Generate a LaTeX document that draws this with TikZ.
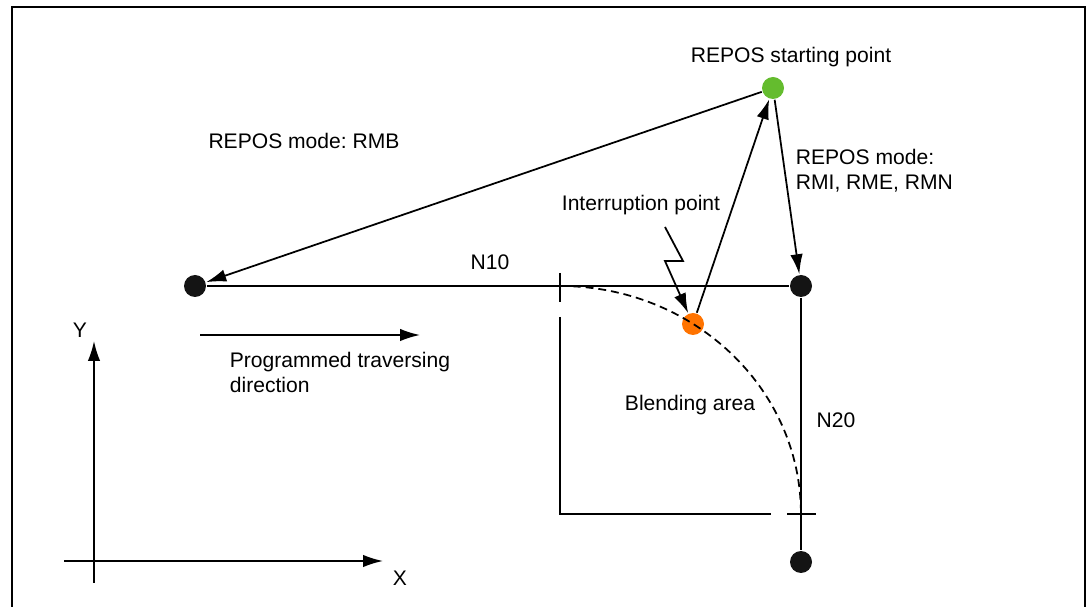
\documentclass[tikz,border=0pt]{standalone}
\usepackage{fontspec}
\setmainfont{Liberation Sans}
\frenchspacing
\usetikzlibrary{arrows.meta,positioning}
\definecolor{reposgreen}{HTML}{64BC2E}
\definecolor{irptorange}{HTML}{FF7300}

\begin{document}
\begin{tikzpicture}[x=0.02cm,y=-0.02cm,line width=1pt,
dot/.style={circle,fill=black!92,inner sep=0pt,minimum size=0.44cm},
txt/.style={font=\fontsize{12}{14.5}\selectfont,inner sep=0pt,align=left},
arr/.style={-{Latex[length=4mm,width=2.5mm]}},
blend/.style={dashed,dash pattern=on 4.5pt off 2.8pt}]
\useasboundingbox(0,0)rectangle(1086,607);
\draw(12,607)--(12,7)--(1085,7)--(1085,607);
% points of the path
\node[dot](n10start)at(195,286){};
\node[dot](corner)at(801,286){};
\node[dot](n20end)at(801,562){};
\node[dot,fill=reposgreen](repos)at(773,88){};
\node[dot,fill=irptorange](irpt)at(693,324){};
\draw(n10start)--(corner);\draw(corner)--(n20end);
% blending area
\draw(560,273)--(560,302);\draw(560,317)--(560,514)--(771,514);\draw(787,514)--(816,514);
\draw[blend](560,286)arc[start angle=90,end angle=0,x radius=4.82cm,y radius=4.56cm];
% repos paths
\draw[arr](repos)--(n10start);\draw[arr](irpt)--(repos);\draw[arr](repos)--(corner);
\coordinate(zap)at(665,227);
\draw[arr](zap)--++(18,34)--++(-18,0)--(irpt);
% direction and axes
\coordinate(dirA)at(200,335);\coordinate(dirB)at(420,335);
\draw[arr](dirA)--(dirB);
\coordinate(ybot)at(94,583);\coordinate(ytop)at(94,341);
\coordinate(xleft)at(64,561);\coordinate(xright)at(383,561);
\draw[arr](ybot)--(ytop);\draw[arr](xleft)--(xright);
% labels
\node[txt](lstart)at(791,57){REPOS starting point};
\node[txt](lrmb)at(304,141){REPOS mode: RMB};
\node[txt,anchor=north west](lrmi)at(795,148){REPOS mode:\\RMI, RME, RMN};
\node[txt](lirpt)at(641,205){Interruption point};
\node[txt](ln10)at(490,262){N10};
\node[txt,anchor=north west](ldir)at(229,351){Programmed traversing\\direction};
\node[txt](lblend)at(690,405){Blending area};
\node[txt](ln20)at(836,420){N20};
\node[txt](lx)at(400,578){X};
\node[txt](ly)at(80,330){Y};
\end{tikzpicture}
\end{document}
